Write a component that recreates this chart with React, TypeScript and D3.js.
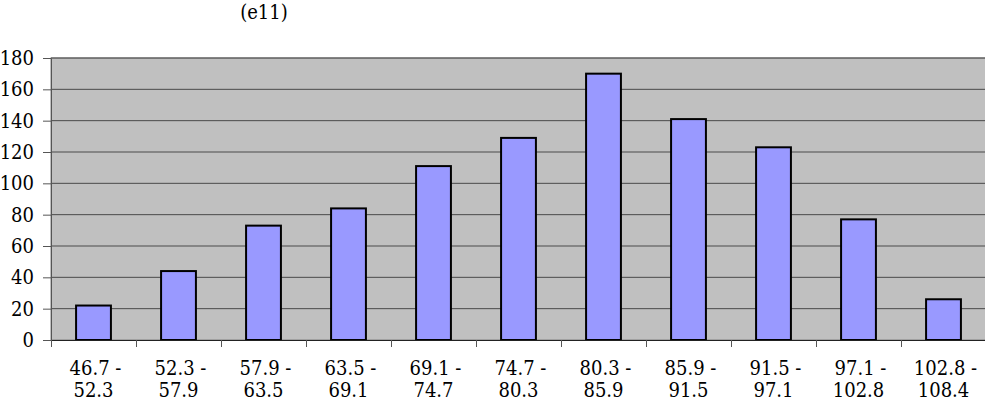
import React, { useEffect, useRef } from "react";
import { select, scaleBand, scaleLinear, axisLeft, axisBottom } from "d3";

// bin labels (two lines each) and counts
const binTop = ["46.7 -", "52.3 -", "57.9 -", "63.5 -", "69.1 -", "74.7 -", "80.3 -", "85.9 -", "91.5 -", "97.1 -", "102.8 -"];
const binBottom = ["52.3", "57.9", "63.5", "69.1", "74.7", "80.3", "85.9", "91.5", "97.1", "102.8", "108.4"];
const counts = [22, 44, 73, 84, 111, 129, 170, 141, 123, 77, 26];
const yTicks = [0, 20, 40, 60, 80, 100, 120, 140, 160, 180];

const FONT = "DejaVu Serif Condensed, DejaVu Serif, serif";

function drawChart(node: SVGSVGElement) {
  const width = 985;
  const height = 401;
  const marginLeft = 51;
  const marginTop = 58;
  const plotBottom = 340;
  const plotRight = marginLeft + 85 * counts.length;

  const svg = select(node);
  svg.selectAll("*").remove();

  const x = scaleBand<number>()
    .domain(counts.map((_, i) => i))
    .range([marginLeft, plotRight])
    .paddingInner(0.59)
    .paddingOuter(0.295);

  const y = scaleLinear().domain([0, 180]).range([plotBottom, marginTop]);

  // plot area
  svg
    .append("rect")
    .attr("x", marginLeft)
    .attr("y", marginTop)
    .attr("width", plotRight - marginLeft)
    .attr("height", plotBottom - marginTop)
    .attr("fill", "#c0c0c0")
    .attr("stroke", "#808080");

  // gridlines
  svg
    .append("g")
    .selectAll("line")
    .data(yTicks.slice(1))
    .join("line")
    .attr("x1", marginLeft)
    .attr("x2", plotRight)
    .attr("y1", (d) => y(d))
    .attr("y2", (d) => y(d))
    .attr("stroke", "#4a4a4a");

  // bars
  svg
    .append("g")
    .selectAll("rect")
    .data(counts)
    .join("rect")
    .attr("x", (_, i) => x(i)!)
    .attr("y", (d) => y(d))
    .attr("width", x.bandwidth())
    .attr("height", (d) => y(0) - y(d))
    .attr("fill", "#9999ff")
    .attr("stroke", "#000")
    .attr("stroke-width", 2);

  // y axis
  svg
    .append("g")
    .attr("transform", `translate(${marginLeft},0)`)
    .call(axisLeft(y).tickValues(yTicks).tickSize(8).tickPadding(9).tickSizeOuter(0))
    .call((g) => g.select(".domain").attr("stroke", "#555"))
    .call((g) => g.selectAll(".tick line").attr("stroke", "#555"))
    .call((g) => g.attr("font-family", FONT).attr("font-size", 20))
    .call((g) => g.selectAll("text").attr("fill", "#000"));

  // x axis, ticks between categories
  const xb = scaleLinear().domain([0, counts.length]).range([marginLeft, plotRight]);
  svg
    .append("g")
    .attr("transform", `translate(0,${plotBottom})`)
    .call(axisBottom(xb).ticks(counts.length).tickFormat(() => "").tickSize(7).tickSizeOuter(0))
    .call((g) => g.select(".domain").attr("stroke", "#222"))
    .call((g) => g.selectAll(".tick line").attr("stroke", "#555"));

  // two-line category labels
  const labels = svg
    .append("g")
    .attr("font-family", FONT)
    .attr("font-size", 20)
    .attr("text-anchor", "middle")
    .selectAll("text")
    .data(counts.map((_, i) => i))
    .join("text")
    .attr("x", (i) => x(i)! + x.bandwidth() / 2 + 2);
  labels.append("tspan").attr("y", 375).text((i) => binTop[i]);
  labels
    .append("tspan")
    .attr("x", (i) => x(i)! + x.bandwidth() / 2)
    .attr("y", 397)
    .text((i) => binBottom[i]);

  // title
  svg
    .append("text")
    .attr("x", 264)
    .attr("y", 19)
    .attr("text-anchor", "middle")
    .attr("font-family", FONT)
    .attr("font-size", 20)
    .text("(e11)");

  svg.attr("width", width).attr("height", height);
}

export default function App() {
  const ref = useRef<SVGSVGElement>(null);
  useEffect(() => {
    if (ref.current) drawChart(ref.current);
  }, []);
  return (
    <svg
      ref={ref}
      width={985}
      height={401}
      style={{ position: "absolute", left: 0, top: 0, background: "#fff" }}
    />
  );
}
